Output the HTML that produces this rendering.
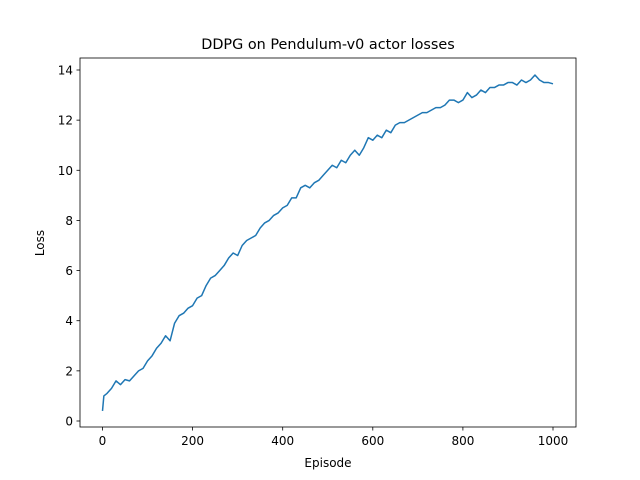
<!DOCTYPE html>
<html><head><meta charset="utf-8"><style>
body{margin:0;background:#fff;}
svg{display:block;font-family:"DejaVu Sans","Liberation Sans",sans-serif;}
</style></head><body>
<svg id="chart" width="640" height="480" viewBox="0 0 640 480">
<rect width="640" height="480" fill="#fff"/>
<text x="328" y="49" font-size="14.4" text-anchor="middle">DDPG on Pendulum-v0 actor losses</text>
<g id="plot"></g>
<rect x="80" y="58" width="496" height="369" fill="none" stroke="#000" stroke-width="0.8"/>
<text x="328" y="467" font-size="12" text-anchor="middle">Episode</text>
<text x="44" y="243" font-size="12" text-anchor="middle" transform="rotate(-90 44 243)">Loss</text>
</svg>
<script>
const episodes = [0,3,10,20,30,40,50,60,70,80,90,100,110,120,130,140,150,160,170,180,190,200,210,220,230,240,250,260,270,280,290,300,310,320,330,340,350,360,370,380,390,400,410,420,430,440,450,460,470,480,490,500,510,520,530,540,550,560,570,580,590,600,610,620,630,640,650,660,670,680,690,700,710,720,730,740,750,760,770,780,790,800,810,820,830,840,850,860,870,880,890,900,910,920,930,940,950,960,970,980,990,1000];
const losses = [0.4,1.0,1.1,1.3,1.6,1.45,1.65,1.6,1.8,2.0,2.1,2.4,2.6,2.9,3.1,3.4,3.2,3.9,4.2,4.3,4.5,4.6,4.9,5.0,5.4,5.7,5.8,6.0,6.2,6.5,6.7,6.6,7.0,7.2,7.3,7.4,7.7,7.9,8.0,8.2,8.3,8.5,8.6,8.9,8.9,9.3,9.4,9.3,9.5,9.6,9.8,10.0,10.2,10.1,10.4,10.3,10.6,10.8,10.6,10.9,11.3,11.2,11.4,11.3,11.6,11.5,11.8,11.9,11.9,12.0,12.1,12.2,12.3,12.3,12.4,12.5,12.5,12.6,12.8,12.8,12.7,12.8,13.1,12.9,13.0,13.2,13.1,13.3,13.3,13.4,13.4,13.5,13.5,13.4,13.6,13.5,13.6,13.8,13.6,13.5,13.5,13.45];
const xTicks = [0,200,400,600,800,1000];
const yTicks = [0,2,4,6,8,10,12,14];
const sx = v => 102.5 + v*(553-102.5)/1000;
const sy = v => 421 - v*(421-70)/14;
const g = document.getElementById('plot');
const NS='http://www.w3.org/2000/svg';
xTicks.forEach(t=>{
  const l=document.createElementNS(NS,'line');
  
  
  l.setAttribute('x1',sx(t));l.setAttribute('x2',sx(t));l.setAttribute('y1',427);l.setAttribute('y2',430.5);l.setAttribute('stroke','#000');l.setAttribute('stroke-width','0.8');
  g.appendChild(l);
  const tx=document.createElementNS(NS,'text');
  
  
  tx.setAttribute('x',sx(t));tx.setAttribute('y',445);tx.setAttribute('font-size','12');tx.setAttribute('text-anchor','middle');
  tx.textContent=t;g.appendChild(tx);
});
yTicks.forEach(t=>{
  const l=document.createElementNS(NS,'line');
  
  
  l.setAttribute('x1',76.5);l.setAttribute('x2',80);l.setAttribute('y1',sy(t));l.setAttribute('y2',sy(t));l.setAttribute('stroke','#000');l.setAttribute('stroke-width','0.8');
  g.appendChild(l);
  const tx=document.createElementNS(NS,'text');
  
  
  tx.setAttribute('x',73);tx.setAttribute('y',sy(t)+4.5);tx.setAttribute('font-size','12');tx.setAttribute('text-anchor','end');
  tx.textContent=t;g.appendChild(tx);
});
const n=Math.min(episodes.length,losses.length);
const pts=[];
for(let i=0;i<n;i++) pts.push(sx(episodes[i])+','+sy(losses[i]));
const p=document.createElementNS(NS,'polyline');


p.setAttribute('points',pts.join(' '));
p.setAttribute('fill','none');p.setAttribute('stroke','#1f77b4');p.setAttribute('stroke-width','1.5');p.setAttribute('stroke-linejoin','round');
g.appendChild(p);
</script>
</body></html>
